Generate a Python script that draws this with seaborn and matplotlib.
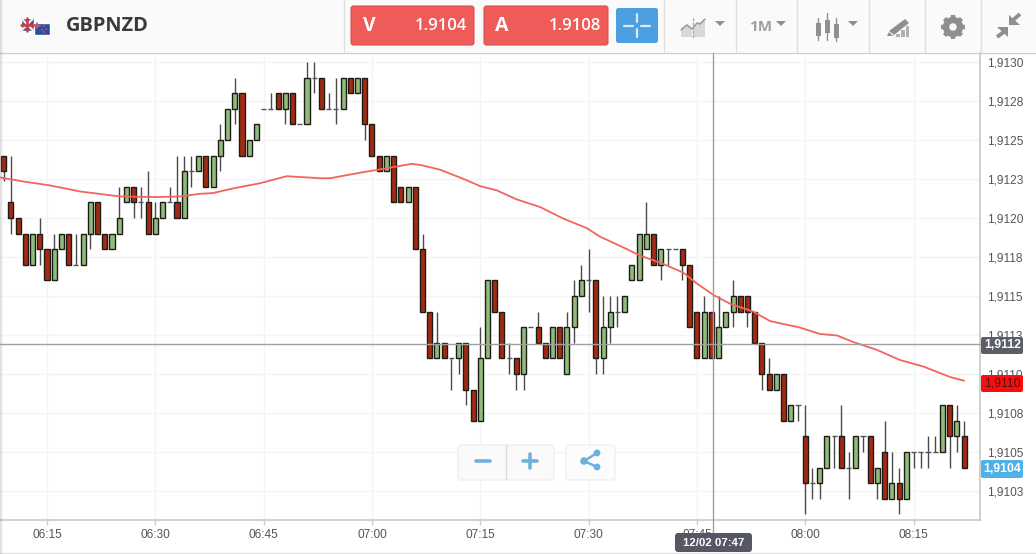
import numpy as np
import pandas as pd
import matplotlib
matplotlib.use('Agg')
import matplotlib.pyplot as plt
from matplotlib.patches import Rectangle, FancyBboxPatch, Polygon, Circle
import seaborn as sns

# prices are stored as pips above 1.9100, time as minutes after 06:00
first_minute = 9
opens = [24, 21, 20, 19, 17, 19, 18, 16, 18, 19, 17, 17, 19, 21, 19, 18, 19, 21, 22, 21, 21, 19, 20, 21, 21, 20,
         23, 23, 24, 22, 24, 25, 27, 28, 24, 25, 27, 27, 28, 27, 28, 26, 26, 29, 29, 27, 27, 27, 29, 28, 29, 26,
         24, 23, 24, 22, 21, 22, 18, 14, 11, 12, 11, 11, 12, 9, 7, 11, 16, 14, 11, 11, 10, 13, 13, 12, 11, 13,
         10, 13, 15, 16, 16, 11, 13, 14, 14, 16, 16, 18, 19, 17, 18, 18, 18, 17, 14, 11, 14, 11, 13, 14, 15, 15,
         14, 12, 10, 9, 10, 7, 8, 6, 3, 3, 4, 6, 6, 4, 4, 6, 6, 3, 5, 2, 3, 2, 5, 5, 5, 5, 5, 8, 6, 6]
closes = [23, 20, 19, 17, 19, 18, 16, 18, 19, 17, 17, 19, 21, 19, 18, 19, 20, 22, 21, 21, 19, 20, 21, 21, 20, 23,
          23, 24, 22, 24, 25, 27, 28, 24, 25, 26, 27, 27, 27, 28, 26, 26, 29, 29, 27, 27, 27, 29, 28, 29, 26, 24,
          23, 24, 21, 21, 22, 18, 14, 11, 12, 11, 11, 12, 9, 7, 11, 16, 14, 11, 11, 10, 13, 13, 12, 11, 13, 11,
          13, 15, 16, 16, 11, 13, 14, 14, 15, 17, 19, 19, 17, 18, 18, 18, 17, 13, 11, 14, 11, 13, 14, 15, 14, 14,
          12, 10, 9, 10, 7, 8, 8, 3, 3, 4, 6, 6, 4, 4, 6, 6, 3, 4, 2, 3, 2, 5, 5, 5, 5, 5, 8, 6, 7, 4]
highs = [24, 24, 20, 19, 19, 20, 18, 19, 19, 19, 19, 19, 21, 21, 19, 19, 22, 22, 22, 22, 23, 21, 21, 22, 24, 24,
         24, 24, 24, 24, 26, 27, 29, 28, 25, 26, 27, 28, 28, 28, 28, 26, 30, 30, 29, 28, 29, 29, 29, 29, 29, 26,
         24, 24, 24, 22, 22, 22, 19, 14, 14, 12, 11, 12, 12, 9, 13, 16, 16, 14, 12, 11, 13, 13, 14, 12, 13, 13,
         14, 16, 17, 18, 16, 15, 15, 15, 15, 17, 19, 21, 19, 18, 18, 18, 18, 17, 14, 15, 14, 15, 14, 16, 15, 15,
         14, 12, 11, 10, 10, 8, 8, 8, 4, 4, 6, 6, 8, 5, 6, 6, 6, 4, 7, 5, 4, 5, 5, 5, 6, 6, 8, 8, 8, 7]
lows = [22.4, 19, 19, 17, 17, 17, 16, 16, 18, 17, 17, 17, 18, 19, 18, 18, 19, 21, 20, 20, 19, 19, 20, 21, 20, 20,
        22, 23, 22, 22, 23, 25, 26, 24, 24, 25, 27, 27, 27, 26, 26, 26, 26, 28, 27, 27, 26, 27, 28, 28, 25, 24,
        23, 23, 21, 21, 21, 18, 14, 11, 11, 11, 9, 10, 8, 7, 7, 11, 14, 11, 10, 9, 9, 13, 12, 11, 11, 11,
        10, 12, 15, 14, 10, 10, 12, 13, 14, 16, 16, 18, 17, 16, 17, 18, 16, 13, 11, 11, 11, 13, 13, 13, 14, 13,
        12, 9, 9, 9, 7, 7, 7, 1, 2, 2, 4, 4, 4, 2, 4, 5, 3, 2, 2, 2, 1, 2, 4, 4, 4, 5, 5, 4, 5, 4]

ma_minutes = [8.5, 11.7, 15.4, 19.6, 25.1, 30.2, 33.4, 36.2, 38, 40.8, 44.5, 48.2, 52.8, 54.2, 58.8, 61.6, 63.4,
              65.5, 66.7, 69.4, 72.7, 75, 77.3, 80, 83.3, 86.5, 89.7, 91.6, 94.4, 97.1, 100.1, 103.1, 105, 107.3,
              109.6, 112.8, 115.1, 117, 119.1, 122, 124.4, 126.7, 129.9, 133.1, 136.4, 140.1, 142]
ma_values = [22.6, 22.34, 22.09, 21.7, 21.38, 21.34, 21.38, 21.55, 21.6, 21.9, 22.23, 22.68, 22.55, 22.55, 22.94,
             23.15, 23.3, 23.47, 23.4, 23.1, 22.5, 22.04, 21.77, 21.2, 20.7, 19.96, 19.36, 18.8, 18.2, 17.6, 17.1,
             16.5, 15.8, 15.06, 14.5, 14, 13.4, 13.2, 13, 12.57, 12.47, 12.04, 11.55, 10.9, 10.47, 9.8, 9.57]

time_ticks = [15, 30, 45, 60, 75, 90, 105, 120, 135]
time_labels = ['06:15', '06:30', '06:45', '07:00', '07:15', '07:30', '07:45', '08:00', '08:15']
price_ticks = [30, 27.5, 25, 22.5, 20, 17.5, 15, 12.5, 10, 7.5, 5, 2.5]
price_labels = ['1,9130', '1,9128', '1,9125', '1,9123', '1,9120', '1,9118', '1,9115', '1,9113', '1,9110', '1,9108',
                '1,9105', '1,9103']

RED = '#a32a12'
GREEN = '#8fbb7c'
WIDTH, HEIGHT = 1036, 554

sns.set_theme(style='white')
plt.rcParams['font.family'] = ['Liberation Sans', 'DejaVu Sans']

fig = plt.figure(figsize=(WIDTH / 100, HEIGHT / 100), dpi=100, facecolor='white')
ax = fig.add_axes([0, 1 - 520 / HEIGHT, 980 / WIDTH, (520 - 53) / HEIGHT])

df = pd.DataFrame({'minute': first_minute + np.arange(len(opens)), 'open': opens, 'close': closes,
                   'high': highs, 'low': lows})
ma = pd.DataFrame({'minute': ma_minutes, 'value': ma_values})

ax.grid(True, color='#f4f4f4', lw=1)
ax.set_axisbelow(True)

ax.vlines(df['minute'], df['low'], df['high'], color='#4a4a4a', lw=1, zorder=2)
flat = df[df['open'] == df['close']]
ax.hlines(flat['open'], flat['minute'] - 0.35, flat['minute'] + 0.35, color='#555555', lw=1, zorder=2)
for col, part in ((RED, df[df['close'] < df['open']]), (GREEN, df[df['close'] > df['open']])):
    ax.bar(part['minute'], (part['close'] - part['open']).abs(), bottom=part[['open', 'close']].min(axis=1),
           width=0.7, color=col, edgecolor='#1c1c14', lw=1, zorder=3)

sns.lineplot(data=ma, x='minute', y='value', color='#f2655f', lw=1.3, ax=ax, zorder=4)

ax.set_xlim(8.49, 144.2)
ax.set_ylim(30 - (520 - 62) / 15.6, 30 + 9 / 15.6)
ax.set_xlabel('')
ax.set_ylabel('')
ax.set_xticks(time_ticks)
ax.set_xticklabels(time_labels)
ax.set_yticks(price_ticks)
ax.set_yticklabels(price_labels)
ax.yaxis.tick_right()
ax.tick_params(axis='x', length=3.5, width=1, color='#cccccc', labelsize=8.6, labelcolor='#555555', pad=3, bottom=True)
ax.tick_params(axis='y', length=3.5, width=1, color='#cccccc', labelsize=8.6, labelcolor='#555555', pad=1.5, right=True)
sns.despine(ax=ax, left=True, top=True, right=False, bottom=False)
for side in ('right', 'bottom'):
    ax.spines[side].set_color('#c8c8c8')
    ax.spines[side].set_linewidth(1.2)

# toolbar, price tags and buttons sit on a pixel sized overlay
ui = fig.add_axes([0, 0, 1, 1], facecolor='none')
ui.set_xlim(0, WIDTH)
ui.set_ylim(HEIGHT, 0)
ui.axis('off')


def box(x0, y0, x1, y1, color, edge='none', r=2.5, z=5, **kw):
    ui.add_patch(FancyBboxPatch((x0 + r, y0 + r), x1 - x0 - 2 * r, y1 - y0 - 2 * r,
                                boxstyle='round,pad={},rounding_size={}'.format(r, r),
                                fc=color, ec=edge, lw=0.8, zorder=z, **kw))


ui.add_patch(Rectangle((0, 0), WIDTH, 52, fc='#fafafa', ec='none', zorder=1))
ui.plot([0, WIDTH], [52.5, 52.5], color='#cfcfcf', lw=1, zorder=2)
ui.plot([0, WIDTH], [552.5, 552.5], color='#e2e2e2', lw=1, zorder=2)
for x in (344, 664, 736, 797, 869, 925, 981):
    ui.plot([x, x], [0, 52], color='#e0e0e0', lw=1, zorder=2)
for i, alpha in enumerate((0.28, 0.18, 0.09)):
    ui.add_patch(Rectangle((i, 0), 1, HEIGHT, fc='#888888', alpha=alpha, ec='none', zorder=3))

# crosshair
ui.plot([0, 980], [343.5, 343.5], color='#a0a0a0', lw=1, zorder=4)
ui.plot([712.5, 712.5], [53, 534], color='#a0a0a0', lw=1, zorder=4)

# flags
ui.add_patch(Rectangle((21, 18), 12.5, 13, fc='#4a5590', zorder=5))
ui.plot([21, 33.5], [18, 31], color='#eeeef4', lw=1.6, zorder=6)
ui.plot([21, 33.5], [31, 18], color='#eeeef4', lw=1.6, zorder=6)
ui.plot([21, 33.5], [24.5, 24.5], color='#d23a4a', lw=1.8, zorder=6)
ui.plot([27.2, 27.2], [18, 31], color='#d23a4a', lw=1.8, zorder=6)
ui.add_patch(Rectangle((33.5, 23), 16.5, 11.5, fc='#2c4c9c', zorder=5))
ui.plot([34, 40], [25.5, 25.5], color='#c85a70', lw=1.2, zorder=6)
ui.plot([37, 37], [23, 28], color='#c85a70', lw=1.2, zorder=6)
for xy in ((44, 26), (46.5, 29), (42, 30), (44, 32)):
    ui.add_patch(Circle(xy, 0.8, fc='#d86a78', ec='none', zorder=6))
ui.text(66, 26, 'GBPNZD', family='Open Sans', fontsize=14.4, weight='bold', color='#3a3a3a', va='center', zorder=6)

# bid and ask buttons
box(351, 6, 474, 45, '#ee5b58', edge='#d85050')
box(484, 6, 608, 45, '#ee5b58', edge='#d85050')
ui.text(369, 26, 'V', family='Open Sans', fontsize=14, weight='bold', color='white', ha='center', va='center', zorder=6)
ui.text(502, 26, 'A', family='Open Sans', fontsize=14, weight='bold', color='white', ha='center', va='center', zorder=6)
ui.text(467, 26, '1.9104', family='Open Sans', fontsize=12, weight='semibold', color='white', ha='right', va='center', zorder=6)
ui.text(601, 26, '1.9108', family='Open Sans', fontsize=12, weight='semibold', color='white', ha='right', va='center', zorder=6)

# crosshair button
box(616, 8, 658, 43, '#4c9fe0')
for seg in (([624, 633], [25.5, 25.5]), ([641, 650], [25.5, 25.5]), ([637, 637], [14, 22]), ([637, 637], [29, 37])):
    ui.plot(seg[0], seg[1], color='#d8ecfa', lw=1.6, zorder=6)

# toolbar icons
GREY = '#8f8f8f'
ui.add_patch(Polygon([(681, 37), (681, 28), (687, 24), (692, 29), (692, 37)], fc='#d8d8d8', ec='none', zorder=5))
ui.add_patch(Polygon([(693, 37), (693, 26), (705, 20), (705, 37)], fc='#d8d8d8', ec='none', zorder=5))
ui.plot([681, 687, 692, 697, 700, 705], [30, 25, 29, 23, 24, 19], color='#9a9a9a', lw=1.1, zorder=6)
ui.plot([692.5, 692.5], [18, 38], color='#a8a8a8', lw=1, ls=(0, (2, 1)), zorder=6)
for x in (715, 776, 848):
    ui.add_patch(Polygon([(x, 21), (x + 10, 21), (x + 5, 26)], fc=GREY, ec='none', zorder=5))
ui.text(749, 27, '1M', family='Open Sans', fontsize=11, weight='bold', color='#a0a0a0', va='center', zorder=6)
for x, y0, y1, b0, b1 in ((818, 18, 40, 23, 36), (827, 13, 40, 20, 33), (836, 18, 41, 24, 38)):
    ui.plot([x, x], [y0, y1], color=GREY, lw=1, zorder=5)
    ui.add_patch(Rectangle((x - 2.5, b0), 5, b1 - b0, fc=GREY, ec='none', zorder=6))
# pencil with rising bars
ui.add_patch(Polygon([(889, 31), (905, 19), (909, 23), (894, 35)], fc=GREY, ec='none', zorder=5))
ui.add_patch(Polygon([(887, 36), (889, 32), (893, 36)], fc=GREY, ec='none', zorder=5))
for x, top in ((896, 34), (901, 30), (905.5, 26)):
    ui.add_patch(Rectangle((x, top), 3.5, 37 - top, fc='#b0b0b0', ec='none', zorder=5))
# gear
for angle in np.arange(0, 360, 45):
    t = np.deg2rad(angle)
    ui.plot([953 + 7 * np.cos(t), 953 + 12 * np.cos(t)], [27 + 7 * np.sin(t), 27 + 12 * np.sin(t)],
            color=GREY, lw=3.2, solid_capstyle='butt', zorder=5)
ui.add_patch(Circle((953, 27), 7, fc='none', ec=GREY, lw=4.6, zorder=5))
# collapse arrows
ui.add_patch(Polygon([(1009, 25), (1009, 15), (1020, 25)], fc=GREY, ec='none', zorder=6))
ui.plot([1012, 1020], [21, 14], color=GREY, lw=2.8, solid_capstyle='butt', zorder=6)
ui.add_patch(Polygon([(1008, 27), (997, 27), (1008, 37)], fc=GREY, ec='none', zorder=6))
ui.plot([1005, 997], [31, 37], color=GREY, lw=2.8, solid_capstyle='butt', zorder=6)

# price tags
box(981, 337, 1023, 354, '#5b5d69', r=2)
box(981, 375, 1023, 392, '#fb0d0d', r=2)
box(981, 460, 1023, 478, '#4fb1e8', r=2)
for y, s, c, w in ((345.5, '1,9112', 'white', 'bold'), (383.5, '1,9110', '#571010', 'normal'),
                   (469, '1,9104', 'white', 'bold')):
    ui.text(1002.5, y, s, fontsize=8.8, color=c, weight=w, ha='center', va='center', zorder=6)

# time tag
box(675, 533, 752, 552, '#555764', r=3)
ui.text(713.5, 542.5, '12/02 07:47', fontsize=8.2, weight='bold', color='white', ha='center', va='center', zorder=6)

# zoom and share buttons
box(458, 445, 554, 480, '#fafafa', edge='#ececec', r=3)
box(566, 445, 615, 480, '#fcfcfc', edge='#ececec', r=3)
ui.plot([505.5, 505.5], [445, 479], color='#dcdcdc', lw=1, zorder=6)
ICON = '#6fb1dd'
ui.plot([476, 490], [461, 461], color=ICON, lw=2.6, zorder=6)
ui.plot([523, 537], [461, 461], color=ICON, lw=2.6, zorder=6)
ui.plot([530, 530], [454, 468], color=ICON, lw=2.6, zorder=6)
ui.plot([597, 584, 597], [453, 461, 467], color=ICON, lw=1.8, zorder=6)
for xy, r in (((597, 453), 3.4), ((584, 461), 3.8), ((597, 467), 3.4)):
    ui.add_patch(Circle(xy, r, fc=ICON, ec='none', zorder=6))

fig.savefig('out.png', dpi=100, facecolor='white')
